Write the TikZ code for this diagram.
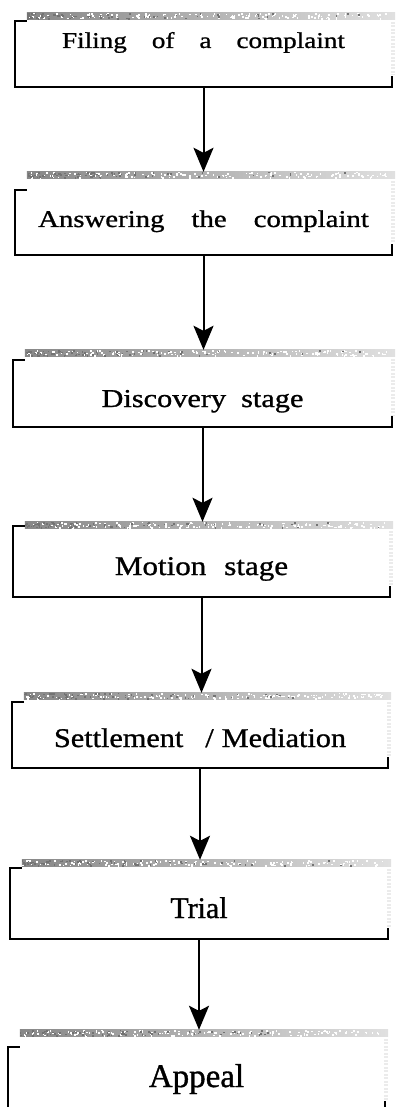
\documentclass[tikz,border=0pt]{standalone}
\usepackage{fontspec}
\setmainfont{Liberation Serif}
\usetikzlibrary{arrows.meta}

% size, horizontal stretch, inter-word space
\newcommand{\stagefont}[3]{\fontsize{#1}{#1}\selectfont\addfontfeature{FakeStretch=#2,FakeBold=1.0}\spaceskip=#3pt\relax}

\tikzset{
  stagebox/.style={rectangle, inner sep=0pt, draw=none, align=center},
  frameline/.style={line width=2pt, draw=black, line join=miter},
  bandfill/.style={left color=black!47, right color=black!12},
  faintedge/.style={line width=4pt, draw=black!8, dash pattern=on 2pt off 1.5pt},
  flow/.style={line width=2pt, -{Stealth[length=24pt,width=20pt,inset=5pt]}},
}

\begin{document}
\begin{tikzpicture}[x=1pt,y=1pt]
\useasboundingbox (0,0) rectangle (397,-1107);
\clip (0,0) rectangle (397,-1107);

% the stages, top to bottom
\node[stagebox, minimum width=377pt, minimum height=74pt, text height=0pt, text depth=4pt,
      font=\stagefont{22.6}{1.2}{25}] (s1) at (203.5,-50) {Filing of a complaint};
\node[stagebox, minimum width=377pt, minimum height=83pt, text height=27pt, text depth=0pt,
      font=\stagefont{24}{1.2}{27}] (s2) at (203.5,-213.5) {Answering the complaint};
\node[stagebox, minimum width=379pt, minimum height=77pt, text height=37pt, text depth=0pt,
      font=\stagefont{25.7}{1.18}{15}] (s3) at (202.5,-388.5) {Discovery stage};
\node[stagebox, minimum width=377pt, minimum height=75pt, text height=31pt, text depth=0pt,
      font=\stagefont{27}{1.15}{18}] (s4) at (201.5,-559.5) {Motion stage};
\node[stagebox, minimum width=376pt, minimum height=75pt, text height=33pt, text depth=0pt,
      font=\stagefont{27}{1.12}{17}] (s5) at (200,-730.5) {Settlement\hspace{22pt}/\hspace{8pt}Mediation};
\node[stagebox, minimum width=378pt, minimum height=79pt, text height=37pt, text depth=0pt,
      font=\stagefont{30}{1.0}{8}] (s6) at (199,-899.5) {Trial};
\node[stagebox, minimum width=377pt, minimum height=82pt, text height=32pt, text depth=0pt,
      font=\stagefont{33}{1.0}{8}] (s7) at (196.5,-1071) {Appeal};

% shaded top band, faint right edge and open black bracket of each stage
\foreach \n/\k in {1/8,2/18,3/10,4/4,5/9,6/8,7/17}{
  \fill[bandfill] ([xshift=12pt]s\n.north west) coordinate (bl\n)
        rectangle ([xshift=3pt,yshift=-7pt]s\n.north east);
  \draw[faintedge] ([xshift=1pt,yshift=-9pt]s\n.north east) -- ([xshift=1pt,yshift=12pt]s\n.south east);
  \draw[frameline] ([xshift=12pt,yshift=-\k pt]s\n.north west) -- ([yshift=-\k pt]s\n.north west)
        -- (s\n.south west) -- (s\n.south east) -- ([yshift=11pt]s\n.south east);
}

% grain of the bands
\pgfmathsetseed{11}
\foreach \n in {1,...,7}{
  \foreach \i in {1,...,150}{
    \pgfmathsetmacro{\u}{rnd*362}
    \pgfmathsetmacro{\v}{rnd*5.5}
    \fill[white] ([shift={(\u,-\v)}]bl\n) rectangle +(1.6,-1.6);
  }
  \foreach \i in {1,...,70}{
    \pgfmathsetmacro{\u}{rnd*rnd*362}
    \pgfmathsetmacro{\v}{rnd*5.5}
    \fill[black!55] ([shift={(\u,-\v)}]bl\n) rectangle +(1.6,-1.6);
  }
}

% flow arrows between consecutive stages
\foreach \a/\b in {1/2,2/3,3/4,4/5,5/6,6/7}
  \draw[flow] (s\a.south) -- (s\a.south |- s\b.north);
\end{tikzpicture}
\end{document}
